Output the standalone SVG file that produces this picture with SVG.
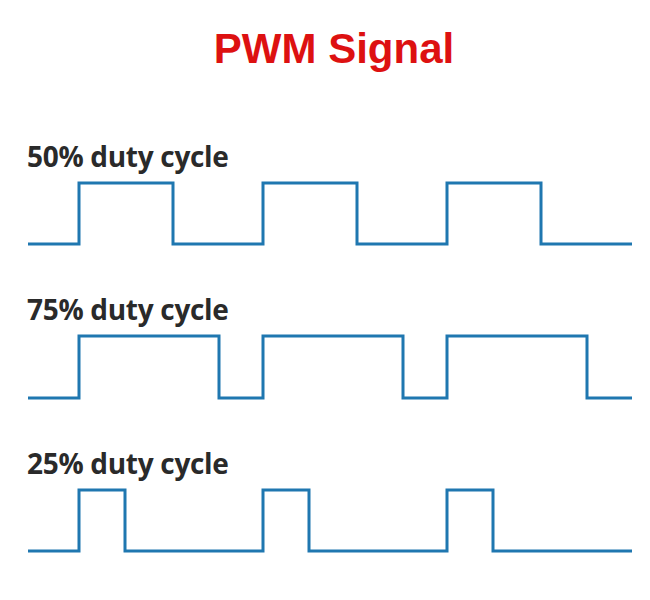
<svg xmlns="http://www.w3.org/2000/svg" width="650" height="600" viewBox="0 0 650 600">
<style>
.t{font-family:"Liberation Sans",Arial,sans-serif;font-weight:bold;font-size:42px;fill:#dd1111}
.l{font-family:"Open Sans","Liberation Sans",sans-serif;font-weight:bold;font-size:28px;fill:#2a2a2a;letter-spacing:-0.3px}
.w{fill:none;stroke:#1f77b0;stroke-width:3}
</style>
<rect width="650" height="600" fill="#fff"/>
<text class="t" x="334" y="63" text-anchor="middle">PWM Signal</text>
<g id="label50"><text class="l" x="27" y="167">50% duty cycle</text></g>
<g id="label75"><text class="l" x="27" y="320">75% duty cycle</text></g>
<g id="label25"><text class="l" x="27" y="474">25% duty cycle</text></g>
<g id="connectors">
<polyline class="w" points="28,244 79,244 79,183 173,183 173,244 263,244 263,183 357,183 357,244 447,244 447,183 541,183 541,244 632,244"/>
<polyline class="w" points="28,398 79,398 79,336 219,336 219,398 263,398 263,336 403,336 403,398 447,398 447,336 587,336 587,398 632,398"/>
<polyline class="w" points="28,551 79,551 79,490 125,490 125,551 263,551 263,490 309,490 309,551 447,551 447,490 493,490 493,551 632,551"/>
</g>
</svg>
